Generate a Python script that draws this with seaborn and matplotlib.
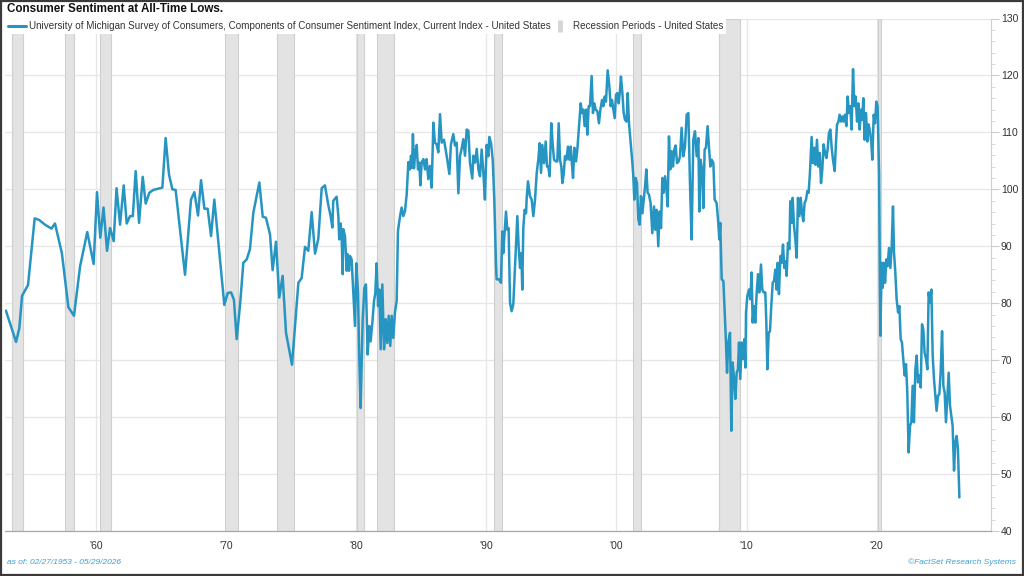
import matplotlib
matplotlib.use("Agg")
import matplotlib.pyplot as plt
import seaborn as sns
import numpy as np
import pandas as pd
from matplotlib.lines import Line2D
from matplotlib.patches import Rectangle

# ---------------- data ----------------
years = [
    1953.10, 1953.88, 1954.13, 1954.34, 1954.80, 1955.31, 1955.67, 1956.10, 1956.60, 1956.87,
    1957.40, 1957.90, 1958.33, 1958.80, 1959.35, 1959.84, 1960.10, 1960.35, 1960.60, 1960.87,
    1961.10, 1961.38, 1961.60, 1961.87, 1962.15, 1962.38, 1962.64, 1962.85, 1963.07, 1963.33,
    1963.61, 1963.84, 1964.12, 1964.43, 1965.12, 1965.37, 1965.63, 1965.89, 1966.14, 1966.86,
    1967.32, 1967.58, 1967.86, 1968.09, 1968.35, 1968.60, 1968.86, 1969.11, 1969.88, 1970.14,
    1970.40, 1970.62, 1970.83, 1971.10, 1971.34, 1971.60, 1971.85, 1972.11, 1972.57, 1972.83,
    1973.08, 1973.39, 1973.59, 1973.85, 1974.10, 1974.36, 1974.62, 1975.08, 1975.57, 1975.82,
    1976.08, 1976.33, 1976.59, 1976.85, 1977.10, 1977.36, 1977.61, 1977.87, 1978.05, 1978.18,
    1978.25, 1978.51, 1978.64, 1978.71, 1978.82, 1978.90, 1978.97, 1979.02, 1979.15, 1979.28,
    1979.36, 1979.46, 1979.53, 1979.66, 1979.79, 1979.92, 1980.02, 1980.15, 1980.25, 1980.35,
    1980.51, 1980.64, 1980.76, 1980.89, 1981.02, 1981.12, 1981.25, 1981.38, 1981.48, 1981.58,
    1981.69, 1981.79, 1981.89, 1982.02, 1982.15, 1982.28, 1982.40, 1982.51, 1982.63, 1982.74,
    1982.86, 1982.99, 1983.12, 1983.22, 1983.38, 1983.50, 1983.63, 1983.76, 1983.89, 1984.02,
    1984.14, 1984.22, 1984.30, 1984.37, 1984.45, 1984.55, 1984.66, 1984.76, 1984.86, 1984.94,
    1985.04, 1985.17, 1985.30, 1985.42, 1985.55, 1985.68, 1985.81, 1985.94, 1986.06, 1986.19,
    1986.32, 1986.45, 1986.58, 1986.76, 1986.96, 1987.17, 1987.29, 1987.47, 1987.60, 1987.73,
    1987.86, 1987.99, 1988.11, 1988.24, 1988.37, 1988.50, 1988.63, 1988.75, 1988.93, 1989.01,
    1989.14, 1989.27, 1989.40, 1989.52, 1989.65, 1989.78, 1989.90, 1990.03, 1990.16, 1990.24,
    1990.37, 1990.50, 1990.62, 1990.75, 1990.80, 1990.98, 1991.13, 1991.24, 1991.31, 1991.42,
    1991.52, 1991.62, 1991.72, 1991.83, 1991.95, 1992.08, 1992.24, 1992.39, 1992.49, 1992.60,
    1992.70, 1992.77, 1992.85, 1992.95, 1993.06, 1993.11, 1993.21, 1993.36, 1993.49, 1993.62,
    1993.75, 1993.88, 1994.00, 1994.11, 1994.21, 1994.31, 1994.44, 1994.57, 1994.67, 1994.77,
    1994.87, 1995.00, 1995.10, 1995.21, 1995.36, 1995.46, 1995.57, 1995.67, 1995.77, 1995.85,
    1995.95, 1996.05, 1996.16, 1996.28, 1996.39, 1996.49, 1996.56, 1996.67, 1996.77, 1996.90,
    1997.00, 1997.13, 1997.26, 1997.36, 1997.46, 1997.56, 1997.67, 1997.77, 1997.87, 1997.97,
    1998.10, 1998.20, 1998.30, 1998.41, 1998.54, 1998.66, 1998.77, 1998.90, 1999.00, 1999.10,
    1999.20, 1999.33, 1999.46, 1999.56, 1999.66, 1999.77, 1999.87, 1999.97, 2000.07, 2000.18,
    2000.28, 2000.35, 2000.46, 2000.56, 2000.66, 2000.79, 2000.87, 2000.97, 2001.10, 2001.23,
    2001.30, 2001.38, 2001.48, 2001.58, 2001.69, 2001.79, 2001.89, 2002.00, 2002.10, 2002.20,
    2002.30, 2002.40, 2002.50, 2002.63, 2002.76, 2002.89, 2002.99, 2003.09, 2003.22, 2003.32,
    2003.43, 2003.53, 2003.63, 2003.74, 2003.86, 2003.94, 2004.04, 2004.14, 2004.25, 2004.35,
    2004.45, 2004.55, 2004.66, 2004.78, 2004.89, 2005.01, 2005.14, 2005.27, 2005.40, 2005.53,
    2005.66, 2005.78, 2005.91, 2006.04, 2006.17, 2006.30, 2006.37, 2006.47, 2006.58, 2006.68,
    2006.78, 2006.88, 2007.01, 2007.11, 2007.22, 2007.32, 2007.45, 2007.55, 2007.70, 2007.81,
    2007.91, 2007.98, 2008.09, 2008.22, 2008.32, 2008.42, 2008.50, 2008.60, 2008.73, 2008.83,
    2008.93, 2009.04, 2009.14, 2009.24, 2009.34, 2009.42, 2009.52, 2009.62, 2009.73, 2009.83,
    2009.91, 2009.96, 2010.06, 2010.19, 2010.29, 2010.39, 2010.47, 2010.57, 2010.67, 2010.78,
    2010.88, 2010.98, 2011.11, 2011.21, 2011.31, 2011.44, 2011.52, 2011.60, 2011.70, 2011.80,
    2011.90, 2012.01, 2012.11, 2012.21, 2012.31, 2012.39, 2012.49, 2012.60, 2012.70, 2012.80,
    2012.90, 2013.00, 2013.08, 2013.18, 2013.29, 2013.36, 2013.47, 2013.54, 2013.65, 2013.75,
    2013.85, 2013.95, 2014.06, 2014.16, 2014.26, 2014.36, 2014.46, 2014.57, 2014.67, 2014.77,
    2014.87, 2015.00, 2015.10, 2015.21, 2015.31, 2015.41, 2015.51, 2015.62, 2015.72, 2015.82,
    2015.92, 2016.03, 2016.13, 2016.23, 2016.33, 2016.44, 2016.54, 2016.64, 2016.77, 2016.87,
    2016.95, 2017.05, 2017.15, 2017.26, 2017.36, 2017.46, 2017.56, 2017.67, 2017.77, 2017.87,
    2017.97, 2018.07, 2018.18, 2018.28, 2018.38, 2018.49, 2018.59, 2018.69, 2018.79, 2018.89,
    2018.97, 2019.07, 2019.18, 2019.28, 2019.38, 2019.48, 2019.59, 2019.66, 2019.77, 2019.87,
    2019.97, 2020.07, 2020.18, 2020.28, 2020.38, 2020.46, 2020.56, 2020.64, 2020.74, 2020.84,
    2020.94, 2021.05, 2021.15, 2021.25, 2021.33, 2021.43, 2021.53, 2021.64, 2021.74, 2021.84,
    2021.94, 2022.04, 2022.15, 2022.25, 2022.35, 2022.45, 2022.56, 2022.66, 2022.76, 2022.86,
    2022.97, 2023.07, 2023.17, 2023.27, 2023.38, 2023.48, 2023.58, 2023.68, 2023.79, 2023.89,
    2023.99, 2024.09, 2024.20, 2024.30, 2024.40, 2024.50, 2024.60, 2024.71, 2024.81, 2024.91,
    2025.02, 2025.12, 2025.22, 2025.32, 2025.43, 2025.53, 2025.63, 2025.73, 2025.83, 2025.94,
    2026.04, 2026.14, 2026.24, 2026.35,
]

current_index = [
    78.7, 73.2, 75.6, 81.3, 83.2, 94.9, 94.6, 93.8, 93.1, 94.0,
    88.8, 79.3, 77.8, 86.5, 92.5, 86.9, 99.5, 91.5, 96.8, 89.2,
    93.2, 90.9, 100.2, 93.8, 100.7, 94.0, 95.3, 95.3, 103.2, 94.1,
    102.2, 97.5, 99.4, 99.9, 100.3, 109.0, 102.6, 100.0, 99.9, 85.0,
    98.2, 99.5, 95.4, 101.6, 96.6, 96.6, 91.8, 98.2, 79.7, 81.8,
    81.9, 80.6, 73.7, 80.0, 87.1, 87.7, 89.5, 95.9, 101.2, 95.2,
    95.0, 92.1, 85.8, 90.8, 81.0, 84.8, 74.8, 69.2, 83.6, 84.4,
    89.9, 89.2, 96.0, 88.7, 91.3, 100.2, 100.7, 97.2, 95.3, 93.3,
    98.0, 98.7, 95.3, 91.2, 94.0, 91.2, 85.1, 93.0, 91.8, 85.7,
    88.6, 85.7, 88.3, 87.7, 81.8, 76.0, 87.0, 81.8, 70.1, 61.6,
    77.2, 82.7, 83.3, 71.0, 76.0, 73.3, 76.5, 80.4, 81.8, 87.0,
    79.5, 82.4, 71.9, 83.3, 71.9, 77.2, 73.0, 77.8, 72.5, 77.8,
    73.9, 78.4, 80.4, 92.7, 95.3, 96.8, 95.3, 96.2, 99.1, 104.8,
    103.5, 105.9, 103.8, 109.7, 103.7, 106.5, 107.8, 103.5, 104.7, 100.7,
    104.7, 105.3, 103.5, 105.3, 101.8, 104.1, 100.3, 111.7, 108.2, 107.9,
    106.5, 113.2, 108.2, 108.7, 105.9, 102.7, 107.9, 109.7, 107.7, 108.2,
    99.3, 105.9, 107.1, 108.8, 105.9, 110.5, 110.3, 104.7, 101.9, 105.9,
    104.7, 107.1, 103.5, 102.3, 107.0, 102.9, 98.2, 107.8, 105.8, 109.2,
    108.1, 105.2, 98.2, 86.8, 84.2, 84.2, 83.6, 92.6, 88.8, 92.6,
    96.1, 92.9, 93.2, 80.1, 78.6, 79.8, 87.7, 95.3, 90.0, 86.2,
    88.8, 82.4, 93.2, 96.4, 95.8, 98.5, 101.4, 98.8, 98.2, 95.3,
    98.2, 102.9, 105.2, 108.1, 102.9, 107.8, 104.6, 108.4, 104.0, 104.0,
    102.3, 111.6, 108.1, 105.2, 104.9, 104.9, 111.6, 105.2, 104.0, 101.1,
    102.6, 105.8, 105.2, 107.5, 105.2, 107.5, 105.2, 102.0, 107.3, 104.9,
    107.0, 111.1, 115.1, 113.4, 114.0, 111.1, 114.0, 109.6, 114.6, 114.6,
    119.9, 113.4, 115.1, 114.0, 113.7, 111.6, 114.0, 115.7, 114.6, 116.3,
    115.4, 120.9, 118.1, 114.6, 115.7, 114.0, 112.5, 116.6, 116.9, 115.1,
    117.5, 119.8, 116.9, 113.4, 112.2, 111.9, 116.9, 111.6, 108.1, 104.6,
    102.3, 98.2, 102.0, 101.1, 94.7, 93.8, 98.8, 95.8, 98.2, 100.5,
    103.5, 99.4, 99.1, 97.6, 92.3, 97.0, 92.9, 96.4, 90.0, 96.1,
    93.2, 102.0, 99.4, 102.3, 99.6, 97.0, 109.3, 103.5, 106.7, 104.0,
    107.0, 107.7, 104.6, 104.9, 105.8, 110.8, 105.8, 107.5, 113.1, 113.4,
    100.5, 91.2, 108.7, 110.2, 105.8, 109.0, 96.1, 105.2, 103.5, 96.7,
    107.0, 107.3, 111.1, 107.5, 104.0, 105.2, 104.6, 98.2, 97.6, 94.7,
    91.2, 94.1, 84.2, 83.9, 78.4, 73.1, 67.8, 73.1, 74.8, 57.6,
    69.6, 66.7, 63.2, 67.8, 68.4, 73.1, 66.7, 73.1, 70.2, 73.7,
    68.7, 78.4, 81.3, 82.4, 80.7, 85.4, 76.6, 79.5, 76.6, 81.9,
    85.1, 81.9, 86.8, 82.4, 81.9, 81.9, 76.6, 68.4, 74.8, 75.1,
    79.5, 83.6, 83.9, 85.9, 82.4, 87.1, 81.6, 88.3, 87.1, 90.3,
    86.2, 87.4, 84.8, 90.6, 89.5, 97.9, 94.1, 98.5, 93.5, 91.2,
    88.0, 98.5, 95.3, 98.5, 95.9, 94.4, 97.6, 98.2, 99.7, 99.4,
    102.9, 109.2, 104.6, 107.3, 104.3, 108.7, 104.0, 106.4, 101.1, 103.5,
    107.9, 106.4, 105.5, 107.0, 109.9, 110.5, 107.3, 105.2, 103.2, 108.1,
    111.4, 111.8, 113.1, 111.9, 112.8, 111.9, 113.1, 111.1, 116.3, 113.4,
    114.6, 110.5, 121.1, 114.6, 116.3, 111.9, 115.1, 110.5, 114.0, 112.2,
    116.0, 108.7, 113.4, 108.4, 111.4, 110.2, 108.1, 105.2, 113.1, 111.6,
    115.4, 114.6, 102.9, 74.3, 87.1, 82.7, 87.1, 83.6, 87.7, 86.5,
    89.7, 86.2, 90.0, 97.0, 88.9, 85.4, 80.7, 78.4, 79.5, 73.7,
    73.1, 70.2, 67.3, 69.3, 64.3, 53.8, 58.5, 59.1, 65.5, 59.1,
    68.4, 70.8, 66.1, 67.3, 65.2, 76.3, 75.4, 71.3, 70.2, 68.4,
    81.9, 80.1, 82.4, 70.8, 66.7, 63.8, 61.1, 63.8, 64.0, 67.8,
    75.1, 65.5, 64.3, 59.1, 63.8, 67.8, 62.0, 60.2, 58.5, 50.6,
    55.6, 56.7, 54.4, 45.9,
]

recession_start = [1953.58, 1957.67, 1960.33, 1969.92, 1973.92, 1980.08, 1981.58,
                   1990.58, 2001.25, 2007.92, 2020.08]
recession_end = [1954.38, 1958.33, 1961.17, 1970.92, 1975.25, 1980.58, 1982.92,
                 1991.25, 2001.92, 2009.50, 2020.33]

decade_ticks = [1960, 1970, 1980, 1990, 2000, 2010, 2020]
decade_labels = ["'60", "'70", "'80", "'90", "'00", "'10", "'20"]
y_ticks = [40, 50, 60, 70, 80, 90, 100, 110, 120, 130]

title = "Consumer Sentiment at All-Time Lows."
series_label = ("University of Michigan Survey of Consumers, Components of Consumer "
                "Sentiment Index, Current Index - United States")
recession_label = "Recession Periods - United States"
footer_left = "as of: 02/27/1953 - 05/29/2026"
footer_right = "\u00a9FactSet Research Systems"

# ---------------- style ----------------
sns.set_style("white")
plt.rcParams['font.family'] = ['Liberation Sans', 'DejaVu Sans']

LINE_COLOR = "#2795c1"
BAND_COLOR = "#e3e3e3"
BAND_EDGE = "#cfcfcf"
GRID_COLOR = "#e6e6e6"
TEXT_COLOR = "#333333"
FOOT_COLOR = "#3aa0d2"

fig = plt.figure(figsize=(10.24, 5.76), dpi=100)
ax = fig.add_axes([4.6 / 1024, 1 - 531 / 576, (991 - 4.6) / 1024, (531 - 18.5) / 576])

df = pd.DataFrame({"year": years, "value": current_index})

for s, e in zip(recession_start, recession_end):
    ax.axvspan(s, e, facecolor=BAND_COLOR, edgecolor=BAND_EDGE, linewidth=0.8, zorder=1)

sns.lineplot(data=df, x="year", y="value", ax=ax, color=LINE_COLOR, linewidth=1.8,
             estimator=None, sort=True, zorder=3, legend=False)

ax.set_xlim(1953.0, 2028.78)
ax.set_ylim(40, 130)

ax.set_xticks(decade_ticks)
ax.set_xticklabels(decade_labels)
ax.set_yticks(y_ticks)
ax.set_yticks(np.arange(40, 131, 2), minor=True)
ax.yaxis.tick_right()
ax.yaxis.set_label_position("right")
ax.set_xlabel("")
ax.set_ylabel("")

ax.grid(True, axis="both", which="major", color=GRID_COLOR, linewidth=0.9, zorder=0)
ax.set_axisbelow(True)

ax.tick_params(axis="x", which="both", length=0, pad=7, labelsize=7.5, labelcolor=TEXT_COLOR)
ax.tick_params(axis="y", which="major", length=5.5, width=0.8, color="#cccccc", pad=1.5,
               labelsize=7.5, labelcolor=TEXT_COLOR, right=True, left=False)
ax.tick_params(axis="y", which="minor", length=3, width=0.6, color="#d5d5d5",
               right=True, left=False)

for side in ["top", "left"]:
    ax.spines[side].set_visible(False)
ax.spines["right"].set_color("#d0d0d0")
ax.spines["right"].set_linewidth(0.8)
ax.spines["bottom"].set_color("#a8a8a8")
ax.spines["bottom"].set_linewidth(0.9)

handles = [
    Line2D([], [], color=LINE_COLOR, linewidth=2.2),
    Line2D([], [], color="#d6d6d6", marker="|", markersize=8, markeredgewidth=3.5,
           linestyle="none"),
]
leg = ax.legend(handles, [series_label, recession_label], loc="upper left",
                bbox_to_anchor=(0.0, 1.0), ncol=2, fontsize=7.1, frameon=True,
                facecolor="white", edgecolor="none", framealpha=1.0, fancybox=False,
                handlelength=1.9, handletextpad=0.3, columnspacing=0.0,
                borderpad=0.3, borderaxespad=0.0)
for t in leg.get_texts():
    t.set_color(TEXT_COLOR)
leg.set_zorder(5)

fig.text(7 / 1024, 1 - 9 / 576, title, fontsize=8.4, fontweight="bold", color="#111111",
         ha="left", va="center")
fig.text(7 / 1024, 1 - 562 / 576, footer_left, fontsize=6, style="italic", color=FOOT_COLOR,
         ha="left", va="center")
fig.text(1016 / 1024, 1 - 562 / 576, footer_right, fontsize=6, style="italic",
         color=FOOT_COLOR, ha="right", va="center")

fig.patches.append(Rectangle((0.001, 0.0015), 0.998, 0.997, transform=fig.transFigure,
                             fill=False, edgecolor="#3a3a3a", linewidth=1.6))

fig.savefig("out.png", dpi=100)
